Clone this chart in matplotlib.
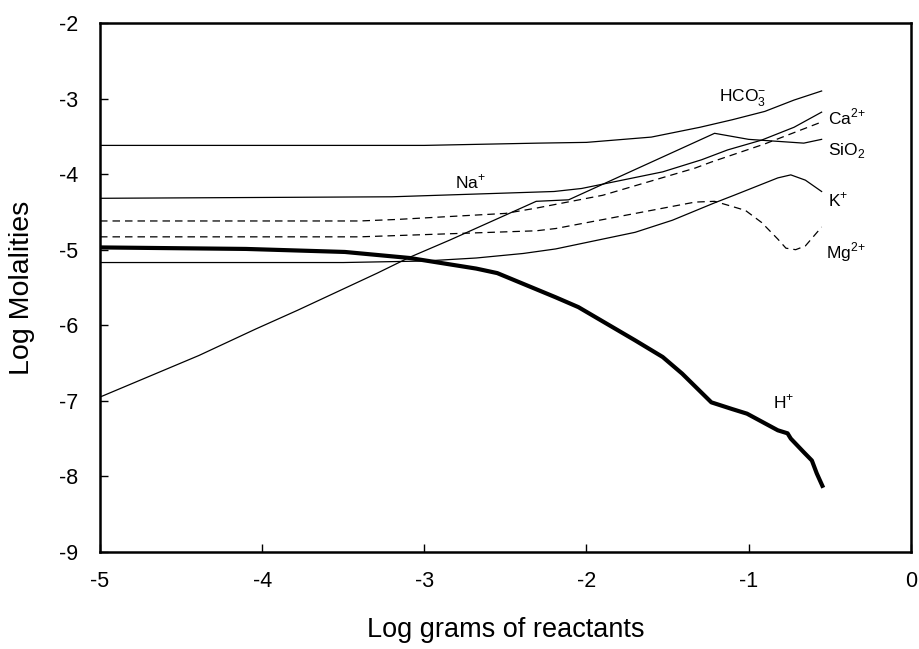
import matplotlib
matplotlib.use("Agg")
import matplotlib.pyplot as plt

plt.rcParams['font.family'] = ['Liberation Sans', 'DejaVu Sans']
plt.rcParams['mathtext.fontset'] = 'custom'
plt.rcParams['mathtext.rm'] = 'Liberation Sans'

# data
hco3_x = [-5, -3.0, -2.3, -2.0, -1.6, -1.3, -1.1, -0.9, -0.72, -0.55]
hco3_y = [-3.62, -3.62, -3.59, -3.58, -3.51, -3.38, -3.28, -3.17, -3.02, -2.90]

na_x = [-5, -3.2, -2.2, -2.03, -1.53, -1.29, -1.13, -0.92, -0.72, -0.55]
na_y = [-4.32, -4.30, -4.23, -4.19, -3.97, -3.81, -3.68, -3.55, -3.38, -3.18]

sio2_x = [-5, -4.39, -4.04, -3.78, -3.29, -3.09, -2.84, -2.31, -2.11, -1.21, -1.0, -0.66, -0.55]
sio2_y = [-6.95, -6.40, -6.05, -5.80, -5.31, -5.10, -4.87, -4.36, -4.34, -3.46, -3.54, -3.59, -3.54]

ca_x = [-5, -3.4, -3.17, -2.5, -2.31, -1.9, -1.33, -1.23, -0.9, -0.55]
ca_y = [-4.62, -4.62, -4.60, -4.52, -4.45, -4.28, -3.92, -3.84, -3.60, -3.31]

mg_x = [-5, -3.4, -2.31, -2.19, -1.33, -1.21, -1.13, -1.02, -0.92, -0.82, -0.77, -0.71, -0.65, -0.55]
mg_y = [-4.83, -4.83, -4.75, -4.72, -4.37, -4.36, -4.41, -4.48, -4.64, -4.86, -4.98, -5.0, -4.95, -4.70]

k_x = [-5, -3.5, -3.0, -2.68, -2.39, -2.19, -1.70, -1.47, -1.21, -1.09, -0.82, -0.74, -0.65, -0.55]
k_y = [-5.17, -5.17, -5.15, -5.11, -5.05, -4.99, -4.77, -4.61, -4.38, -4.28, -4.05, -4.01, -4.08, -4.23]

h_x = [-5, -4.1, -3.49, -3.09, -2.68, -2.55, -2.19, -2.05, -1.70, -1.53, -1.41, -1.23,
       -1.10, -1.01, -0.82, -0.76, -0.74, -0.66, -0.61, -0.58, -0.54]
h_y = [-4.97, -4.99, -5.03, -5.11, -5.25, -5.31, -5.63, -5.76, -6.20, -6.42, -6.64, -7.02,
       -7.11, -7.17, -7.39, -7.43, -7.50, -7.68, -7.79, -7.96, -8.15]

fig = plt.figure(figsize=(9.2, 6.49), dpi=100)
ax = fig.add_axes([0.1087, 0.1495, 0.8813, 0.8151])

thin = dict(color='black', lw=0.9)
dash = dict(color='black', lw=0.9, dashes=(6, 4))
ax.plot(hco3_x, hco3_y, **thin)
ax.plot(na_x, na_y, **thin)
ax.plot(sio2_x, sio2_y, **thin)
ax.plot(k_x, k_y, **thin)
ax.plot(ca_x, ca_y, **dash)
ax.plot(mg_x, mg_y, **dash)
ax.plot(h_x, h_y, color='black', lw=3.0, solid_capstyle='butt')

lab = dict(fontsize=12.5, ha='left', va='center')
ax.text(-1.18, -2.98, r'HCO$_3^{{-}}$', **lab)
ax.text(-0.51, -3.25, r'Ca$^{2{+}}$', **lab)
ax.text(-0.51, -3.69, r'SiO$_2$', **lab)
ax.text(-0.51, -4.34, r'K$^{{+}}$', **lab)
ax.text(-0.52, -5.03, r'Mg$^{2{+}}$', **lab)
ax.text(-2.81, -4.11, r'Na$^{{+}}$', **lab)
ax.text(-0.85, -7.02, r'H$^{{+}}$', **lab)

ax.set_xlim(-5, 0)
ax.set_ylim(-9, -2)
ax.set_xticks([-5, -4, -3, -2, -1, 0])
ax.set_yticks([-9, -8, -7, -6, -5, -4, -3, -2])
ax.set_xticklabels(['-5', '-4', '-3', '-2', '-1', '0'])
ax.set_yticklabels(['-9', '-8', '-7', '-6', '-5', '-4', '-3', '-2'])
ax.tick_params(direction='in', length=6, width=1, labelsize=15.5)
ax.tick_params(axis='x', pad=14)
ax.tick_params(axis='y', pad=16)
for s in ax.spines.values():
    s.set_linewidth(1.8)

ax.set_xlabel('Log grams of reactants', fontsize=19.5, labelpad=18)
ax.set_ylabel('Log Molalities', fontsize=20.5, labelpad=17)

fig.savefig('out.png', dpi=100)
